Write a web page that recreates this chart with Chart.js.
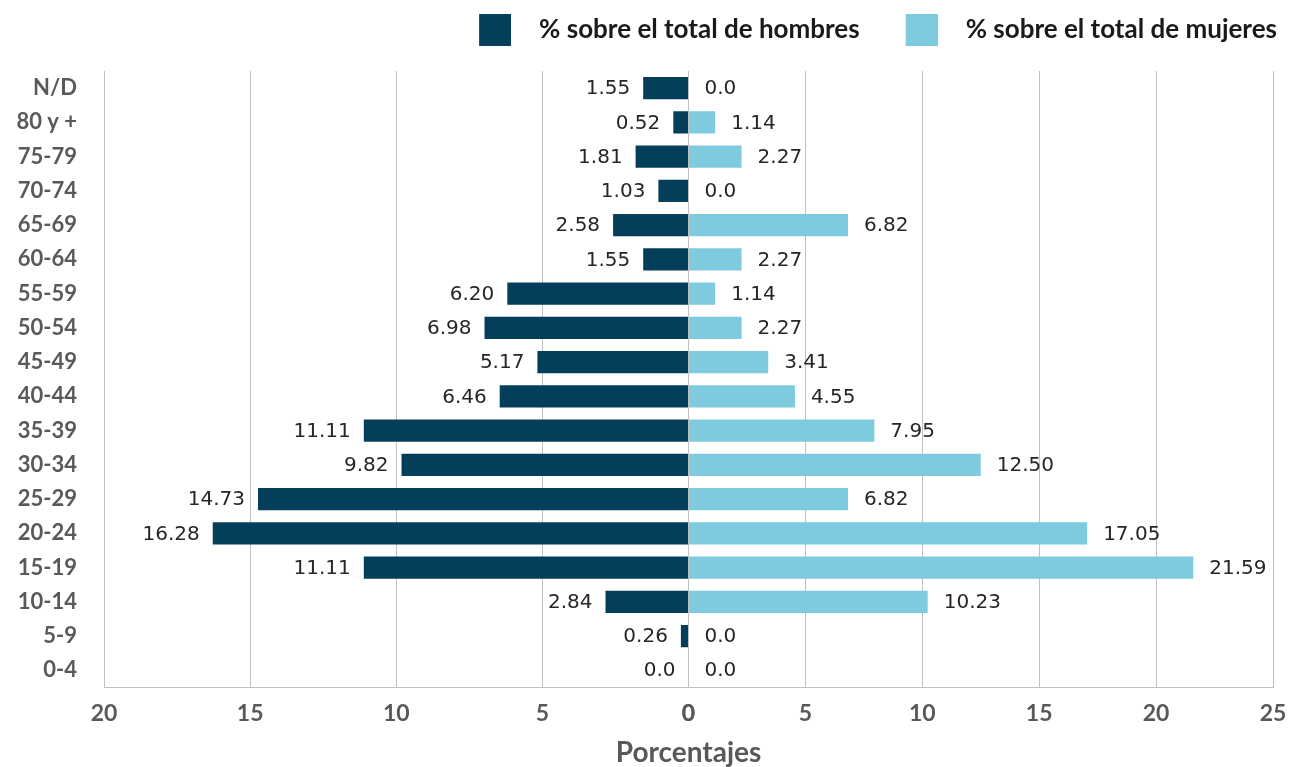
<!DOCTYPE html>
<html>
<head>
<meta charset="utf-8">
<script src="https://cdn.jsdelivr.net/npm/chart.js@4"></script>
<style>
  html, body { margin: 0; padding: 0; background: #fff; }
  #wrap { width: 1289px; height: 767px; }
</style>
</head>
<body>
<div id="wrap"><canvas id="mychart"></canvas></div>
<script>
// grupos de edad (de arriba a abajo)
const ageGroups = ['N/D', '80 y +', '75-79', '70-74', '65-69', '60-64', '55-59', '50-54', '45-49',
  '40-44', '35-39', '30-34', '25-29', '20-24', '15-19', '10-14', '5-9', '0-4'];
const menPct = [1.55, 0.52, 1.81, 1.03, 2.58, 1.55, 6.20, 6.98, 5.17, 6.46, 11.11, 9.82, 14.73, 16.28, 11.11, 2.84, 0.26, 0.0];
const womenPct = [0.0, 1.14, 2.27, 0.0, 6.82, 2.27, 1.14, 2.27, 3.41, 4.55, 7.95, 12.50, 6.82, 17.05, 21.59, 10.23, 0.0, 0.0];
const menTicks = [0, 5, 10, 15, 20];
const womenTicks = [0, 5, 10, 15, 20, 25];

const menColor = '#033f5a';
const womenColor = '#7ecbe0';

const fmt = v => v === 0 ? '0.0' : v.toFixed(2);

// cuadrado de la leyenda (dibujado a la derecha del lienzo para separar del texto)
function swatch(color) {
  const cv = document.createElement('canvas');
  cv.width = 51;
  cv.height = 32;
  const g = cv.getContext('2d');
  g.fillStyle = color;
  g.fillRect(19, 0, 32, 32);
  return cv;
}

// etiquetas de valor junto a cada barra + alto fijo de la leyenda
const valueLabels = {
  id: 'valueLabels',
  beforeLayout(chart) {
    const lg = chart.legend;
    if (lg && !lg._fixedHeight) {
      const fit = lg.fit;
      lg.fit = function () { fit.call(this); this.height = 66; };
      lg._fixedHeight = true;
    }
  },
  afterDatasetsDraw(chart) {
    const c = chart.ctx;
    c.save();
    c.font = '20px "DejaVu Sans"';
    c.fillStyle = '#262626';
    c.textBaseline = 'middle';
    chart.data.datasets.forEach((ds, i) => {
      const meta = chart.getDatasetMeta(i);
      meta.data.forEach((el, j) => {
        const left = i === 0;
        c.textAlign = left ? 'right' : 'left';
        c.fillText(fmt(ds.data[j]), left ? el.x - 13 : el.x + 16, el.y + 1);
      });
    });
    c.restore();
  }
};

const gridColor = '#c0c0c0';
const tickFont = { family: 'Lato', size: 23, weight: 'bold' };

const ctx = document.getElementById('mychart').getContext('2d');
new Chart(ctx, {
  type: 'bar',
  data: {
    labels: ageGroups,
    datasets: [{
      label: '% sobre el total de hombres',
      data: menPct,
      xAxisID: 'xm',
      backgroundColor: menColor,
      pointStyle: swatch(menColor),
      grouped: false,
      barPercentage: 0.65,
      categoryPercentage: 1
    }, {
      label: '% sobre el total de mujeres',
      data: womenPct,
      xAxisID: 'xw',
      backgroundColor: womenColor,
      pointStyle: swatch(womenColor),
      grouped: false,
      barPercentage: 0.65,
      categoryPercentage: 1
    }]
  },
  options: {
    indexAxis: 'y',
    responsive: true,
    maintainAspectRatio: false,
    animation: false,
    layout: { padding: { top: 5, right: 0, left: 0, bottom: 0 } },
    scales: {
      xm: {
        type: 'linear',
        position: 'bottom',
        stack: 'x',
        stackWeight: 1,
        reverse: true,
        min: 0,
        max: 20,
        afterBuildTicks: s => { s.ticks = menTicks.map(v => ({ value: v })); },
        afterFit: s => { s.paddingRight = 16; },
        grid: { color: gridColor, drawTicks: false },
        border: { color: gridColor },
        ticks: { font: tickFont, color: '#595959', padding: 12, maxRotation: 0 }
      },
      xw: {
        type: 'linear',
        position: 'bottom',
        stack: 'x',
        stackWeight: 1,
        min: 0,
        max: 25,
        afterBuildTicks: s => { s.ticks = womenTicks.map(v => ({ value: v })); },
        afterFit: s => { s.paddingRight = 16; },
        grid: { color: gridColor, drawTicks: false },
        border: { color: gridColor },
        ticks: { font: tickFont, color: '#595959', padding: 12, maxRotation: 0 }
      },
      y: {
        grid: { display: false, drawTicks: false },
        border: { display: false },
        afterFit: s => { s.width = 104; },
        ticks: { font: { family: 'Lato', size: 22, weight: 'bold' }, color: '#595959', padding: 27 }
      }
    },
    plugins: {
      legend: {
        position: 'top',
        align: 'end',
        labels: {
          usePointStyle: true,
          pointStyleWidth: 81,
          boxHeight: 32,
          padding: 12,
          color: '#1a1a1a',
          font: { family: 'Lato', size: 26, weight: 'bold' }
        }
      },
      title: {
        display: true,
        position: 'bottom',
        fullSize: false,
        text: 'Porcentajes',
        color: '#595959',
        font: { family: 'Lato', size: 28, weight: 'bold', lineHeight: 1 },
        padding: { top: 0, bottom: 0 }
      },
      tooltip: { enabled: false }
    }
  },
  plugins: [valueLabels]
});
</script>
</body>
</html>
